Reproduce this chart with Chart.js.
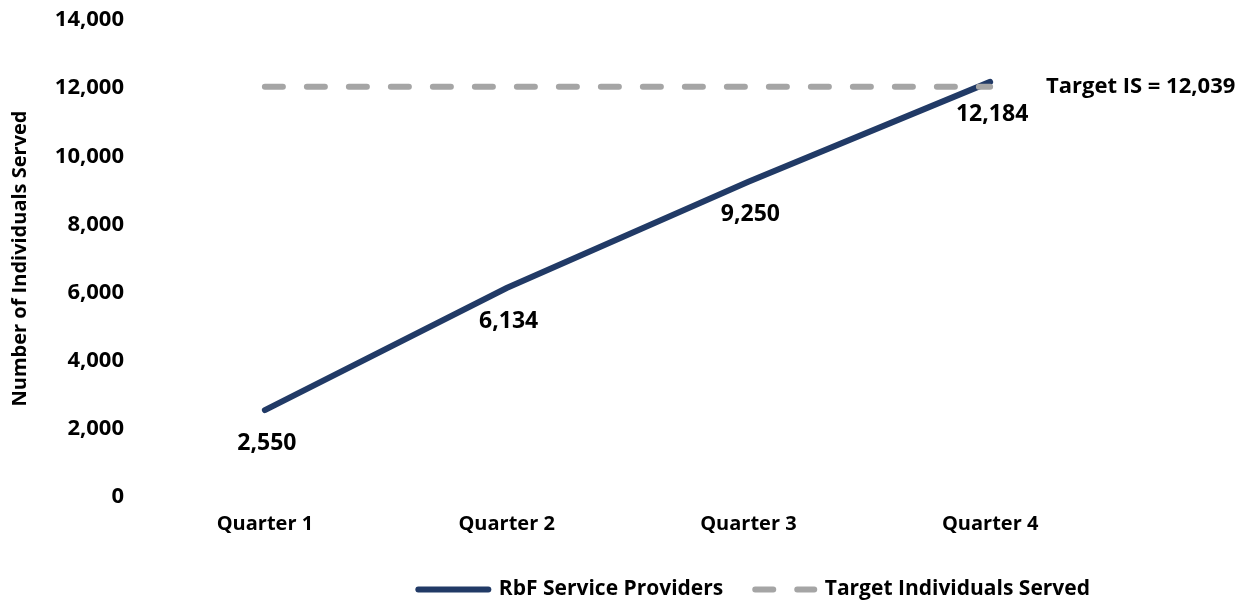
<!DOCTYPE html>
<html>
<head>
<meta charset="utf-8">
<script src="https://cdn.jsdelivr.net/npm/chart.js@4/dist/chart.umd.min.js"></script>
<style>
  html, body { margin: 0; padding: 0; background: #fff; }
  #wrap { width: 1247px; height: 600px; }
</style>
</head>
<body>
<div id="wrap"><canvas id="myChart"></canvas></div>
<script>
var quarters = ["Quarter 1", "Quarter 2", "Quarter 3", "Quarter 4"]
var served = [2550, 6134, 9250, 12184]
var target = 12039
var targetLine = [target, target, target, target]
var yTicks = [0, 2000, 4000, 6000, 8000, 10000, 12000, 14000]

var navy = "#213a66"
var grey = "#a5a5a5"
var fontName = "'Open Sans', sans-serif"

function fmt(v) {
    return v.toLocaleString("en-US")
}

// value labels under the service provider line, plus the target text at the right
var labelPlugin = {
    id: "labels",
    afterDatasetsDraw: function(chart) {
        var ctx = chart.ctx
        var meta = chart.getDatasetMeta(0)
        ctx.save()
        ctx.font = "bold 23px " + fontName
        ctx.fillStyle = "#000"
        ctx.textAlign = "center"
        ctx.textBaseline = "middle"
        meta.data.forEach(function(pt, i) {
            ctx.fillText(fmt(served[i]), pt.x + 2, pt.y + 33)
        })
        var y = chart.scales.y.getPixelForValue(target)
        ctx.font = "bold 22px " + fontName
        ctx.textAlign = "left"
        ctx.fillText("Target IS = " + fmt(target), 1046, y)
        ctx.restore()
    }
}

var ctx = document.getElementById("myChart").getContext("2d")
var chart = new Chart(ctx, {
    type: "line",
    data: {
        labels: quarters,
        datasets: [
            {
                label: "RbF Service Providers",
                data: served,
                borderColor: navy,
                backgroundColor: navy,
                borderWidth: 6,
                borderCapStyle: "round",
                pointRadius: 0,
                tension: 0,
                order: 2
            },
            {
                label: "Target Individuals Served",
                data: targetLine,
                borderColor: grey,
                backgroundColor: grey,
                borderWidth: 6,
                borderCapStyle: "round",
                borderDash: [18, 24],
                pointRadius: 0,
                tension: 0,
                order: 1
            }
        ]
    },
    options: {
        responsive: true,
        maintainAspectRatio: false,
        animation: false,
        layout: { padding: { top: 20, right: 136, bottom: -10, left: 0 } },
        scales: {
            x: {
                offset: true,
                grid: { display: false, drawTicks: false },
                border: { display: false },
                ticks: {
                    color: "#000",
                    padding: 15,
                    maxRotation: 0,
                    font: { family: fontName, size: 20, weight: "bold" }
                },
                afterFit: function(s) { s.height = 61 }
            },
            y: {
                min: 0,
                max: 14000,
                grid: { display: false, drawTicks: false },
                border: { display: false },
                afterBuildTicks: function(s) {
                    s.ticks = yTicks.map(function(v) { return { value: v } })
                },
                ticks: {
                    color: "#000",
                    padding: 20,
                    font: { family: fontName, size: 22, weight: "bold" },
                    callback: function(v) { return fmt(v) }
                },
                title: {
                    display: true,
                    text: "Number of Individuals Served",
                    color: "#000",
                    padding: { top: 8, bottom: 0 },
                    font: { family: fontName, size: 20, weight: "bold" }
                },
                afterFit: function(s) {
                    s.width = 144
                    s.paddingTop = 0
                    s.paddingBottom = 0
                }
            }
        },
        plugins: {
            tooltip: { enabled: false },
            legend: {
                position: "bottom",
                align: "end",
                labels: {
                    usePointStyle: true,
                    pointStyle: "line",
                    pointStyleWidth: 70,
                    boxHeight: 21,
                    padding: 21,
                    color: "#000",
                    font: { family: fontName, size: 21, weight: "bold" },
                    generateLabels: function(c) {
                        return c.data.datasets.map(function(ds, i) {
                            return {
                                text: ds.label,
                                fillStyle: "rgba(0,0,0,0)",
                                strokeStyle: ds.borderColor,
                                lineWidth: 6,
                                lineCap: "round",
                                lineDash: ds.borderDash || [],
                                lineDashOffset: ds.borderDash ? 31 : 0,
                                pointStyle: "line",
                                datasetIndex: i,
                                hidden: false
                            }
                        })
                    }
                }
            }
        }
    },
    plugins: [labelPlugin]
})
</script>
</body>
</html>
